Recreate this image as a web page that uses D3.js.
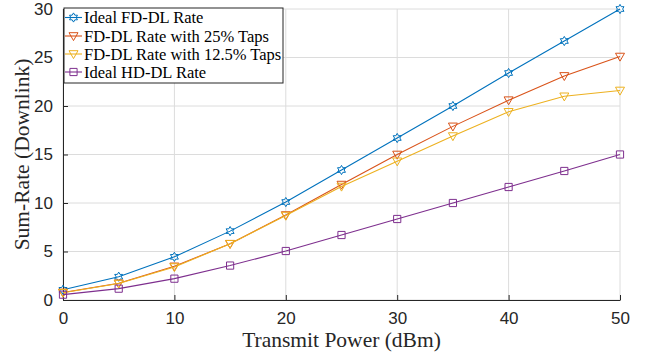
<!DOCTYPE html>
<html>
<head>
<meta charset="utf-8">
<script src="https://cdn.jsdelivr.net/npm/d3@7"></script>
<style>
  body { margin: 0; background: #fff; }
  svg { display: block; }
</style>
</head>
<body>
<div id="chart"></div>
<script>
// data
const power = [0, 5, 10, 15, 20, 25, 30, 35, 40, 45, 50];
const idealFD = [1.05, 2.4, 4.45, 7.1, 10.1, 13.4, 16.7, 20.0, 23.4, 26.7, 30.0];
const taps25 = [0.78, 1.72, 3.47, 5.8, 8.76, 11.9, 15.0, 17.9, 20.6, 23.1, 25.1];
const taps125 = [0.75, 1.7, 3.4, 5.8, 8.7, 11.7, 14.3, 16.9, 19.4, 21.0, 21.6];
const idealHD = [0.55, 1.17, 2.2, 3.55, 5.05, 6.7, 8.35, 10.0, 11.65, 13.3, 15.0];

const xTicks = [0, 10, 20, 30, 40, 50];
const yTicks = [0, 5, 10, 15, 20, 25, 30];

const series = [
  { name: 'Ideal FD-DL Rate', values: idealFD, color: '#0072BD', marker: 'hexagram' },
  { name: 'FD-DL Rate with 25% Taps', values: taps25, color: '#D95319', marker: 'triangle' },
  { name: 'FD-DL Rate with 12.5% Taps', values: taps125, color: '#EDB120', marker: 'triangle' },
  { name: 'Ideal HD-DL Rate', values: idealHD, color: '#7E2F8E', marker: 'square' }
];

const width = 655;
const height = 356;
const margin = { top: 9, right: 35, bottom: 56, left: 63 };
const innerW = width - margin.left - margin.right;
const innerH = height - margin.top - margin.bottom;

const serif = '"Liberation Serif", "Times New Roman", serif';

const svg = d3.select('#chart').append('svg')
  .attr('width', width)
  .attr('height', height);

const g = svg.append('g').attr('transform', `translate(${margin.left},${margin.top})`);

const x = d3.scaleLinear().domain([0, 50]).range([0, innerW]);
const y = d3.scaleLinear().domain([0, 30]).range([innerH, 0]);

// grid
g.append('g').selectAll('line').data(xTicks).join('line')
  .attr('x1', d => x(d)).attr('x2', d => x(d))
  .attr('y1', 0).attr('y2', innerH)
  .attr('stroke', '#dcdcdc').attr('stroke-width', 1);
g.append('g').selectAll('line').data(yTicks).join('line')
  .attr('x1', 0).attr('x2', innerW)
  .attr('y1', d => y(d)).attr('y2', d => y(d))
  .attr('stroke', '#dcdcdc').attr('stroke-width', 1);

// axes, ticks pointing inward
const xAxis = g.append('g').attr('transform', `translate(0,${innerH})`)
  .call(d3.axisBottom(x).tickValues(xTicks).tickSizeInner(-5).tickSizeOuter(0).tickPadding(12));
const yAxis = g.append('g')
  .call(d3.axisLeft(y).tickValues(yTicks).tickSizeInner(-5).tickSizeOuter(0).tickPadding(10));

[xAxis, yAxis].forEach(a => {
  a.select('.domain').attr('stroke', '#262626').attr('stroke-width', 1);
  a.selectAll('.tick line').attr('stroke', '#262626');
  a.selectAll('text')
    .attr('fill', '#262626')
    .style('font-family', '"Liberation Sans", Arial, sans-serif')
    .style('font-size', '17px');
});

// marker shapes
function hexagram(r) {
  const pts = [];
  for (let i = 0; i < 12; i++) {
    const a = -Math.PI / 2 + i * Math.PI / 6;
    const rr = i % 2 === 0 ? r : r / Math.sqrt(3);
    pts.push([rr * Math.cos(a), rr * Math.sin(a)]);
  }
  return 'M' + pts.map(p => p.join(',')).join('L') + 'Z';
}
function markerPath(type) {
  if (type === 'hexagram') return hexagram(4.6);
  if (type === 'triangle') return 'M-4.5,-3.3L4.5,-3.3L0,4.6Z';
  return 'M-3.6,-3.6L3.6,-3.6L3.6,3.6L-3.6,3.6Z';
}

const line = d3.line()
  .x((d, i) => x(power[i]))
  .y(d => y(d));

series.forEach(s => {
  g.append('path')
    .datum(s.values)
    .attr('fill', 'none')
    .attr('stroke', s.color)
    .attr('stroke-width', 1.1)
    .attr('d', line);
  g.append('g').selectAll('path').data(s.values).join('path')
    .attr('transform', (d, i) => `translate(${x(power[i])},${y(d)})`)
    .attr('d', markerPath(s.marker))
    .attr('fill', 'none')
    .attr('stroke', s.color)
    .attr('stroke-width', 1);
});

// axis labels
svg.append('text')
  .attr('x', margin.left + innerW / 2)
  .attr('y', 347)
  .attr('text-anchor', 'middle')
  .attr('fill', '#262626')
  .style('font-family', serif)
  .style('font-size', '21.5px')
  .text('Transmit Power (dBm)');

svg.append('text')
  .attr('transform', `translate(29,${margin.top + innerH / 2}) rotate(-90)`)
  .attr('text-anchor', 'middle')
  .attr('fill', '#262626')
  .style('font-family', serif)
  .style('font-size', '21.5px')
  .text('Sum-Rate (Downlink)');

// legend
const legend = svg.append('g').attr('transform', 'translate(64,8)');
legend.append('rect')
  .attr('width', 219).attr('height', 75)
  .attr('fill', '#fff').attr('stroke', '#262626').attr('stroke-width', 1);
const rowY = [9.5, 28, 46, 64];
series.forEach((s, i) => {
  const row = legend.append('g').attr('transform', `translate(0,${rowY[i]})`);
  row.append('line').attr('x1', 1).attr('x2', 18).attr('y1', 0).attr('y2', 0)
    .attr('stroke', s.color).attr('stroke-width', 1.1);
  row.append('path').attr('transform', 'translate(9.5,0)')
    .attr('d', markerPath(s.marker))
    .attr('fill', 'none').attr('stroke', s.color);
  row.append('text')
    .attr('x', 20).attr('y', 5.5)
    .attr('fill', '#000')
    .style('font-family', serif)
    .style('font-size', '16.5px')
    .text(s.name);
});
</script>
</body>
</html>
